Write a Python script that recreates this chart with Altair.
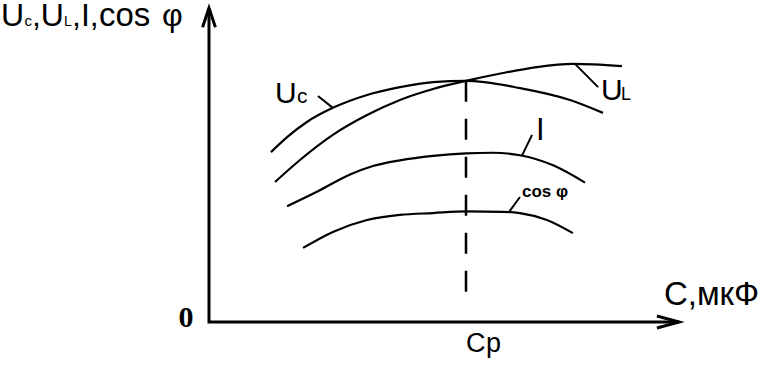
import altair as alt
import pandas as pd

# Curves (C in arbitrary units, Cp = 10; values in arbitrary units)
uc_x = [2.41, 3.04, 3.81, 4.82, 6.15, 7.43, 8.72, 10.0, 12.10, 14.05, 15.33]
uc_y = [5.41, 5.89, 6.37, 6.82, 7.23, 7.48, 7.64, 7.68, 7.45, 7.07, 6.66]
ul_x = [2.57, 3.54, 4.82, 6.15, 7.43, 8.72, 10.0, 11.44, 12.76, 14.16, 16.07]
ul_y = [4.46, 5.16, 5.96, 6.59, 7.07, 7.42, 7.68, 7.93, 8.12, 8.22, 8.15]
i_x = [3.04, 4.20, 5.49, 6.38, 7.43, 8.72, 10.0, 11.05, 12.10, 13.39, 14.63]
i_y = [3.69, 4.15, 4.70, 4.97, 5.15, 5.29, 5.37, 5.39, 5.31, 4.99, 4.44]
cos_x = [3.66, 4.82, 6.15, 7.43, 8.72, 10.0, 11.44, 12.10, 13.15, 14.16]
cos_y = [2.36, 2.87, 3.25, 3.41, 3.47, 3.52, 3.51, 3.47, 3.25, 2.83]

# Resonance capacitance marker
cp_x = [10.0, 10.0]
cp_y = [7.68, 0.70]

# Axes (polyline) and arrow heads
axis_x = [0.0, 0.0, 18.29]
axis_y = [10.0, 0.0, 0.0]
arrow_y_x = [-0.25, 0.0, 0.25]
arrow_y_y = [9.39, 10.0, 9.39]
arrow_x_x = [17.43, 18.29, 17.43]
arrow_x_y = [0.19, 0.0, -0.19]

# Label leader lines: (x0, y0, x1, y1)
leader_names = ["Uc", "UL", "I", "cos"]
leader_x0 = [4.24, 14.24, 12.57, 12.10]
leader_y0 = [7.20, 8.22, 5.96, 3.98]
leader_x1 = [4.82, 15.14, 12.18, 11.67]
leader_y1 = [6.82, 7.48, 5.30, 3.50]

# Labels (regular weight)
reg_text = ["U", "c", ",U", "L", ",I,", "cos", "φ", "U", "c", "U", "L", "I", "C", "p", "C,мкФ"]
reg_x = [-8.09, -7.18, -6.89, -5.64, -5.33, -4.28, -1.83, 2.57, 3.42, 15.25, 16.03, 12.72, 10.0, 10.78, 17.70]
reg_y = [9.43, 9.43, 9.43, 9.43, 9.43, 9.43, 9.43, 6.97, 6.97, 7.07, 7.07, 5.80, -0.955, -0.955, 0.54]
reg_size = [32, 15, 32, 14, 32, 33, 32, 30, 21, 30, 18, 31, 27, 27, 33]

# Labels (bold)
bold_text = ["cos φ"]
bold_x = [12.18]
bold_y = [3.98]
bold_size = [17]

zero_text = ["0"]
zero_x = [-0.895]
zero_y = [-0.16]

XDOM = [-8.132, 21.907]
YDOM = [-1.465, 10.255]

xs = alt.Scale(domain=XDOM, nice=False, zero=False)
ys = alt.Scale(domain=YDOM, nice=False, zero=False)

rows = []
for name, xv, yv in [("Uc", uc_x, uc_y), ("UL", ul_x, ul_y), ("I", i_x, i_y), ("cos", cos_x, cos_y)]:
    for a, b in zip(xv, yv):
        rows.append({"curve": name, "x": a, "y": b})
curves_df = pd.DataFrame(rows)

lead_rows = []
for n, a0, b0, a1, b1 in zip(leader_names, leader_x0, leader_y0, leader_x1, leader_y1):
    lead_rows.append({"id": n, "x": a0, "y": b0, "o": 0})
    lead_rows.append({"id": n, "x": a1, "y": b1, "o": 1})
lead_df = pd.DataFrame(lead_rows)

cp_df = pd.DataFrame({"x": cp_x, "y": cp_y, "o": [0, 1]})

ax_rows = []
for n, xv, yv in [("axis", axis_x, axis_y), ("ay", arrow_y_x, arrow_y_y), ("ax", arrow_x_x, arrow_x_y)]:
    for k, (a, b) in enumerate(zip(xv, yv)):
        ax_rows.append({"id": n, "x": a, "y": b, "o": k})
ax_df = pd.DataFrame(ax_rows)

reg_df = pd.DataFrame({"t": reg_text, "x": reg_x, "y": reg_y, "s": reg_size})
bold_df = pd.DataFrame({"t": bold_text, "x": bold_x, "y": bold_y, "s": bold_size})
zero_df = pd.DataFrame({"t": zero_text, "x": zero_x, "y": zero_y})

X = alt.X("x:Q", scale=xs, axis=None)
Y = alt.Y("y:Q", scale=ys, axis=None)

curves = alt.Chart(curves_df).mark_line(
    color="black", strokeWidth=2.2, interpolate="monotone"
).encode(x=X, y=Y, detail="curve:N")

leaders = alt.Chart(lead_df).mark_line(color="black", strokeWidth=2).encode(
    x=X, y=Y, detail="id:N", order="o:Q"
)

cp_line = alt.Chart(cp_df).mark_line(
    color="black", strokeWidth=2.5, strokeDash=[21, 17]
).encode(x=X, y=Y, order="o:Q")

axes = alt.Chart(ax_df).mark_line(color="black", strokeWidth=3).encode(
    x=X, y=Y, detail="id:N", order="o:Q"
)

reg_labels = alt.Chart(reg_df).mark_text(
    align="left", baseline="alphabetic", font="Liberation Sans", color="black"
).encode(x=X, y=Y, text="t:N", size=alt.Size("s:Q", scale=None))

bold_labels = alt.Chart(bold_df).mark_text(
    align="left", baseline="alphabetic", font="Liberation Sans", fontWeight="bold", color="black"
).encode(x=X, y=Y, text="t:N", size=alt.Size("s:Q", scale=None))

zero_label = alt.Chart(zero_df).mark_text(
    align="center", baseline="alphabetic", font="Liberation Serif", fontWeight="bold",
    fontSize=30, color="black"
).encode(x=X, y=Y, text="t:N")

chart = alt.layer(
    curves, leaders, cp_line, axes, reg_labels, bold_labels, zero_label
).properties(
    width=772, height=368, autosize=alt.AutoSizeParams(type="none"), padding=0,
    background="white"
).configure_view(stroke=None)

chart.save("out.html", embed_options={"renderer": "svg", "actions": False})
